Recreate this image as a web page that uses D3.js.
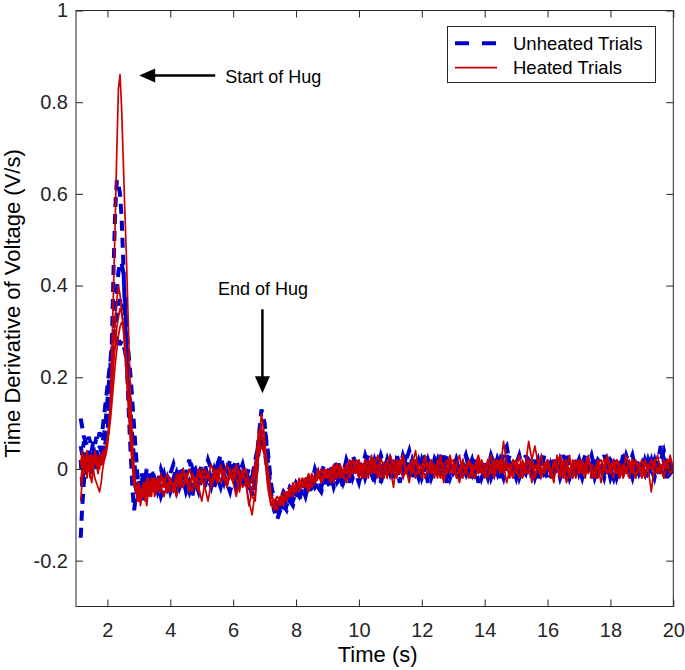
<!DOCTYPE html>
<html><head><meta charset="utf-8">
<script src="https://cdn.jsdelivr.net/npm/d3@7"></script>
<style>body{margin:0;background:#fff} svg{display:block} text{font-family:"Liberation Sans", Arial, Helvetica, sans-serif}</style>
</head><body><svg id="c" width="685" height="670"></svg>
<script>
// sampling grid: 0.05 s from 1.15 to 3.45 s, then 0.1 s from 3.5 to 20 s
const timeFine = d3.range(47).map(i => +(1.15 + 0.05 * i).toFixed(2));
const timeCoarse = d3.range(166).map(i => +(3.5 + 0.1 * i).toFixed(1));
const time = timeFine.concat(timeCoarse);

// Unheated trials (V/s)
const unheated1 = [
-0.15,-0.08,-0.03,0.01,-0.01,0.02,0.00,0.03,0.01,0.02,0.00,0.03,0.02,0.04,0.03,0.05,0.06,0.08,0.13,0.20,0.30,0.45,0.57,0.63,0.62,0.60,0.55,0.46,0.36,0.26,0.17,0.09,0.02,-0.05,-0.09,-0.06,-0.07,-0.04,-0.05,-0.02,-0.04,-0.01,-0.03,-0.05,-0.02,-0.03,-0.01,
-0.02,-0.05,-0.03,-0.01,-0.04,
-0.02,-0.04,-0.01,-0.03,0.00,-0.03,-0.05,-0.02,-0.01,-0.03,
-0.01,0.01,-0.02,-0.04,-0.01,0.02,-0.01,-0.03,0.00,-0.02,
0.01,-0.02,-0.01,-0.03,-0.02,-0.04,-0.05,-0.01,0.06,0.13,
0.10,0.02,-0.05,-0.09,-0.11,-0.09,-0.07,-0.08,-0.06,-0.07,
-0.05,-0.06,-0.04,-0.05,-0.02,-0.04,-0.03,-0.01,-0.04,-0.02,
-0.03,-0.01,-0.04,-0.02,0.00,-0.03,-0.01,0.01,-0.02,0.00,
0.02,-0.01,0.01,0.03,0.00,-0.02,0.01,0.03,-0.01,0.02,
0.00,-0.02,0.02,0.01,-0.01,0.03,0.00,-0.02,0.01,-0.01,
0.02,0.00,-0.03,0.01,0.02,-0.01,0.00,0.03,-0.02,0.01,
-0.01,0.02,0.00,-0.02,0.03,0.01,-0.01,0.02,-0.03,0.00,
0.02,-0.01,0.01,0.03,0.00,-0.02,0.04,0.05,0.01,-0.01,
0.02,0.00,-0.02,0.03,0.01,-0.01,0.02,-0.02,0.00,0.03,
0.01,-0.02,0.02,0.00,-0.01,0.03,0.01,-0.02,0.00,0.02,
-0.01,0.01,0.03,0.00,-0.02,0.02,0.00,-0.01,0.03,0.01,
-0.02,0.00,0.02,-0.01,0.03,0.01,-0.02,0.01,0.00,0.02,
-0.01,0.02,0.00,0.03,-0.01,0.01,0.05,0.02,-0.02,0.01,
-0.01];
const unheated2 = [
0.11,0.09,0.07,0.06,0.05,0.07,0.06,0.04,0.06,0.05,0.07,0.06,0.08,0.07,0.09,0.12,0.15,0.18,0.21,0.24,0.28,0.31,0.35,0.39,0.43,0.45,0.45,0.43,0.38,0.32,0.25,0.18,0.11,0.05,0.00,-0.04,-0.06,-0.04,-0.06,-0.03,-0.05,-0.02,-0.04,-0.03,-0.01,-0.04,-0.02,
-0.04,-0.02,-0.05,-0.03,-0.01,
-0.04,-0.02,-0.05,-0.03,-0.01,-0.04,-0.02,0.00,-0.03,-0.05,
-0.02,-0.04,-0.01,-0.03,0.00,-0.02,-0.04,-0.01,-0.03,-0.05,
-0.02,0.00,-0.03,-0.01,-0.04,-0.02,-0.06,-0.03,0.03,0.08,
0.09,0.04,-0.03,-0.07,-0.10,-0.08,-0.09,-0.06,-0.07,-0.05,
-0.06,-0.04,-0.05,-0.03,-0.05,-0.02,-0.04,-0.03,-0.01,-0.03,
-0.02,-0.04,-0.01,-0.03,-0.02,0.00,-0.03,-0.01,-0.02,0.01,
-0.01,0.01,-0.02,0.00,0.02,-0.01,0.01,-0.03,0.00,0.02,
-0.01,0.01,-0.02,0.00,0.03,0.01,-0.01,0.02,0.00,-0.02,
0.01,-0.01,0.02,0.00,-0.02,0.01,0.03,-0.01,0.01,-0.02,
0.00,0.02,-0.01,0.01,-0.02,0.00,0.02,0.01,-0.01,0.02,
-0.01,0.01,-0.02,0.00,0.02,-0.01,0.01,0.03,-0.01,0.00,
-0.02,0.01,0.00,0.02,-0.01,0.01,-0.02,0.00,0.02,-0.01,
0.00,0.02,-0.01,0.01,-0.02,0.00,0.02,0.01,-0.01,0.00,
0.02,-0.01,0.00,0.02,0.01,-0.02,0.00,0.01,-0.01,0.02,
0.00,-0.02,0.01,0.00,0.02,-0.01,0.01,0.03,0.00,-0.01,
0.01,-0.01,0.02,0.00,-0.02,0.01,0.00,0.02,-0.01,0.00,
0.01];
const unheated3 = [
0.02,-0.04,0.01,-0.02,0.03,0.00,0.02,-0.01,0.01,0.03,0.01,0.02,0.00,0.03,0.05,0.04,0.07,0.10,0.14,0.19,0.24,0.28,0.31,0.34,0.36,0.37,0.35,0.36,0.34,0.31,0.27,0.23,0.19,0.14,0.09,0.04,-0.01,-0.05,-0.07,-0.05,-0.07,-0.04,-0.06,-0.03,-0.05,-0.03,-0.04,
-0.05,-0.03,-0.06,-0.04,-0.02,
-0.05,-0.03,-0.01,-0.04,-0.02,-0.05,-0.03,-0.06,-0.02,-0.04,
-0.01,-0.03,0.00,-0.02,-0.04,-0.01,0.01,-0.02,-0.03,0.00,
-0.02,-0.04,-0.01,-0.03,0.00,-0.03,-0.02,0.02,0.05,0.06,
0.04,-0.01,-0.06,-0.08,-0.09,-0.10,-0.08,-0.09,-0.07,-0.08,
-0.05,-0.07,-0.04,-0.06,-0.03,-0.05,-0.02,-0.04,-0.05,-0.02,
-0.04,-0.02,-0.03,0.00,-0.02,-0.04,-0.01,-0.03,0.01,-0.01,
-0.03,0.00,-0.02,0.01,-0.01,-0.03,0.00,-0.02,0.01,-0.01,
0.01,-0.02,0.00,-0.03,0.01,-0.01,0.02,-0.02,0.00,0.01,
-0.02,0.00,0.01,-0.02,0.00,0.02,-0.01,0.00,-0.03,0.01,
-0.01,0.00,-0.02,0.01,-0.01,0.02,-0.02,0.00,0.01,-0.02,
0.00,-0.02,0.01,-0.01,0.02,0.00,-0.02,0.01,0.00,-0.01,
0.01,-0.02,0.00,-0.01,0.02,-0.02,0.00,0.01,-0.01,0.00,
-0.02,0.01,-0.01,0.00,0.02,-0.01,-0.02,0.00,0.01,-0.01,
0.00,-0.02,0.01,-0.01,0.00,0.02,-0.01,0.00,-0.02,0.01,
-0.01,0.01,-0.02,0.00,-0.01,0.02,0.00,-0.02,0.01,-0.01,
0.01,-0.02,-0.01,0.00,0.02,-0.01,0.00,-0.02,0.01,-0.01,
0.00];
const unheated4 = [
0.05,0.03,0.06,0.04,0.02,0.04,0.01,0.03,0.05,0.02,0.04,0.03,0.05,0.04,0.06,0.08,0.11,0.15,0.19,0.23,0.26,0.28,0.29,0.28,0.29,0.27,0.28,0.27,0.26,0.24,0.20,0.16,0.11,0.06,0.02,-0.02,-0.04,-0.02,-0.04,-0.01,-0.03,-0.02,0.00,-0.03,-0.01,-0.02,-0.01,
-0.01,-0.03,0.00,-0.02,-0.04,
-0.01,0.01,-0.02,0.00,-0.03,-0.01,0.02,-0.01,0.00,-0.02,
0.01,-0.01,0.02,0.00,-0.02,0.01,0.03,0.00,-0.01,0.02,
0.00,0.02,-0.01,0.01,-0.02,0.00,-0.03,0.00,0.04,0.07,
0.05,0.00,-0.04,-0.06,-0.08,-0.07,-0.05,-0.06,-0.04,-0.05,
-0.03,-0.04,-0.02,-0.03,-0.01,-0.03,0.00,-0.02,-0.01,0.01,
-0.01,0.01,-0.02,0.02,0.00,-0.01,0.02,0.00,0.03,0.01,
0.02,0.00,0.03,0.01,-0.01,0.02,0.00,0.03,0.01,-0.01,
0.02,0.00,0.03,0.01,-0.01,0.02,0.04,0.01,0.00,0.02,
0.00,0.03,0.01,-0.01,0.02,0.00,0.02,-0.01,0.03,0.01,
0.00,0.02,-0.01,0.01,0.03,0.00,0.02,-0.01,0.01,0.00,
0.02,0.00,0.03,0.01,-0.01,0.02,0.00,0.01,0.03,0.00,
0.01,0.03,0.00,-0.01,0.02,0.01,0.00,0.02,-0.01,0.01,
0.00,0.02,0.01,-0.01,0.02,0.00,0.03,0.01,-0.01,0.01,
0.02,0.00,-0.01,0.01,0.03,0.00,0.02,0.01,-0.01,0.00,
0.02,0.01,-0.01,0.02,0.00,0.03,0.01,0.00,0.02,-0.01,
0.01,0.03,0.00,0.02,-0.01,0.01,0.02,0.04,0.01,0.02,
0.01];

// Heated trials (V/s)
const heated1 = [
-0.03,0.01,-0.01,0.02,0.00,0.01,-0.02,0.02,0.00,0.03,0.01,-0.01,0.02,0.01,0.03,0.02,0.03,0.05,0.09,0.17,0.28,0.41,0.55,0.70,0.83,0.86,0.79,0.68,0.57,0.47,0.35,0.23,0.13,0.05,-0.01,-0.05,-0.04,-0.07,-0.05,-0.06,-0.03,-0.05,-0.02,-0.04,-0.06,-0.03,-0.05,
-0.03,-0.05,-0.02,-0.04,-0.01,
-0.03,-0.05,-0.02,-0.04,-0.01,-0.03,0.00,-0.02,-0.04,-0.01,
-0.03,0.00,-0.02,0.01,-0.01,-0.03,0.00,-0.02,0.01,-0.01,
-0.03,0.00,-0.02,-0.04,-0.03,-0.07,-0.10,-0.05,0.05,0.12,
0.07,-0.02,-0.07,-0.09,-0.08,-0.06,-0.08,-0.05,-0.06,-0.04,
-0.05,-0.03,-0.04,-0.02,-0.04,-0.01,-0.03,-0.02,0.00,-0.02,
-0.01,-0.03,0.00,-0.02,0.01,-0.01,-0.03,0.00,0.02,-0.01,
0.01,-0.02,0.00,0.02,-0.01,0.01,0.03,0.00,-0.02,0.01,
0.03,0.00,-0.02,0.01,0.03,-0.01,0.00,0.02,-0.02,0.01,
0.00,0.03,-0.01,0.01,-0.02,0.02,0.00,-0.03,0.01,0.03,
-0.01,0.01,0.03,-0.02,0.00,0.02,-0.01,0.01,0.03,0.00,
-0.02,0.01,0.03,-0.01,0.02,0.00,0.06,0.01,-0.02,0.02,
0.00,0.03,-0.01,0.01,0.06,0.02,-0.02,0.01,0.03,-0.01,
0.01,-0.02,0.02,0.00,0.03,-0.01,0.01,-0.02,0.02,0.00,
0.02,-0.01,0.01,0.03,-0.02,0.00,0.02,-0.01,0.01,0.03,
0.00,-0.02,0.02,0.01,-0.01,0.03,0.00,0.02,-0.02,0.01,
-0.01,0.02,0.00,-0.05,0.01,0.03,-0.01,0.02,0.00,0.03,
0.00];
const heated2 = [
-0.07,-0.02,0.03,0.01,0.04,0.02,0.00,0.03,0.01,0.04,0.02,0.00,0.03,0.02,0.04,0.03,0.05,0.07,0.10,0.15,0.21,0.27,0.33,0.37,0.40,0.38,0.35,0.31,0.26,0.21,0.15,0.09,0.04,0.00,-0.04,-0.03,-0.06,-0.04,-0.07,-0.05,-0.03,-0.06,-0.08,-0.05,-0.03,-0.05,-0.02,
-0.06,-0.03,-0.05,-0.02,-0.04,
-0.02,-0.05,-0.03,-0.01,-0.04,-0.02,-0.05,-0.01,-0.03,0.00,
-0.02,-0.04,-0.07,-0.03,-0.01,-0.03,0.00,-0.02,-0.04,-0.01,
-0.03,-0.06,-0.02,0.00,-0.03,-0.08,-0.05,0.00,0.08,0.09,
0.03,-0.04,-0.08,-0.07,-0.09,-0.06,-0.07,-0.05,-0.06,-0.03,
-0.05,-0.02,-0.04,-0.03,-0.01,-0.03,-0.02,0.00,-0.03,-0.01,
-0.02,0.00,-0.03,0.01,-0.01,-0.02,0.01,-0.01,0.00,0.02,
-0.01,0.01,-0.02,0.00,0.03,-0.01,0.01,-0.02,0.00,0.02,
0.00,-0.04,0.02,-0.01,0.03,0.00,-0.03,0.01,0.04,-0.01,
0.01,-0.02,0.00,0.02,-0.01,0.01,0.03,-0.02,0.00,0.01,
0.02,-0.01,-0.03,0.01,0.00,0.02,-0.02,0.01,-0.01,0.02,
0.00,-0.02,0.01,0.00,0.02,-0.01,0.01,-0.03,0.00,0.02,
-0.01,0.01,-0.02,0.00,0.02,-0.03,0.01,0.00,-0.02,0.01,
0.02,0.00,-0.02,0.01,-0.01,0.02,-0.03,0.00,0.01,-0.02,
0.01,0.00,-0.02,0.02,0.00,-0.01,0.01,-0.03,0.00,0.02,
-0.01,0.01,0.00,-0.02,0.01,-0.01,0.02,0.00,-0.02,0.01,
0.00,-0.02,0.01,0.00,0.02,-0.01,0.00,-0.02,0.01,-0.01,
0.01];
const heated3 = [
0.01,0.04,-0.01,0.02,-0.02,0.01,-0.01,-0.03,0.00,-0.02,-0.03,-0.04,-0.05,-0.03,0.00,0.02,0.04,0.06,0.09,0.13,0.18,0.23,0.27,0.31,0.33,0.35,0.34,0.32,0.28,0.23,0.18,0.12,0.07,0.02,-0.02,-0.04,-0.07,-0.05,-0.08,-0.06,-0.04,-0.07,-0.05,-0.03,-0.05,-0.02,-0.04,
-0.02,-0.04,-0.01,-0.03,-0.05,
-0.02,-0.04,-0.01,-0.03,0.00,-0.02,-0.04,-0.01,-0.03,-0.05,
0.00,-0.02,-0.01,-0.03,0.00,-0.02,0.01,-0.01,-0.03,0.00,
-0.02,0.01,-0.01,-0.02,0.00,-0.03,-0.06,-0.07,0.02,0.08,
0.05,0.00,-0.05,-0.08,-0.07,-0.08,-0.06,-0.07,-0.05,-0.06,
-0.04,-0.05,-0.03,-0.04,-0.02,-0.04,-0.03,-0.01,-0.03,-0.02,
0.00,-0.02,-0.01,0.01,-0.02,0.00,-0.01,0.02,-0.01,0.00,
0.02,-0.01,0.01,-0.02,0.02,0.00,-0.01,0.02,0.01,-0.02,
0.01,0.02,-0.01,0.00,0.02,-0.01,0.01,0.00,0.02,-0.01,
0.00,0.02,0.01,-0.01,0.01,-0.02,0.02,0.00,-0.01,0.02,
0.00,0.01,-0.01,0.02,0.00,-0.02,0.01,0.00,0.02,-0.01,
0.01,0.00,-0.01,0.02,0.00,0.02,-0.01,0.01,0.00,-0.02,
0.02,0.00,0.01,-0.01,0.00,0.02,0.05,0.01,-0.01,0.00,
0.02,-0.01,0.01,0.00,-0.02,0.01,0.02,-0.01,0.00,0.02,
0.00,0.01,-0.01,0.02,0.00,-0.02,0.01,0.02,0.00,-0.01,
0.01,0.00,0.02,-0.01,0.01,0.00,-0.02,0.02,0.01,0.00,
0.02,-0.01,0.01,0.00,0.02,-0.01,0.01,0.00,0.02,-0.01,
0.00];
const heated4 = [
0.02,-0.01,0.02,0.00,0.03,0.01,0.03,0.00,0.02,0.01,0.03,0.02,0.00,0.03,0.01,0.03,0.04,0.06,0.08,0.11,0.15,0.19,0.23,0.26,0.29,0.31,0.32,0.31,0.28,0.24,0.19,0.14,0.09,0.04,0.00,-0.03,-0.05,-0.03,-0.06,-0.04,-0.06,-0.03,-0.05,-0.02,-0.04,-0.06,-0.03,
-0.05,-0.02,-0.04,-0.06,-0.03,
-0.05,-0.03,-0.06,-0.02,-0.04,-0.01,-0.03,-0.05,-0.02,-0.04,
-0.07,-0.03,-0.01,-0.04,-0.02,0.00,-0.03,-0.01,-0.03,-0.02,
0.00,-0.02,-0.05,-0.01,-0.02,-0.04,-0.02,0.01,0.03,0.05,
0.03,-0.02,-0.06,-0.07,-0.06,-0.07,-0.05,-0.06,-0.04,-0.05,
-0.03,-0.04,-0.02,-0.03,-0.05,-0.02,-0.03,-0.01,-0.02,0.00,
-0.02,-0.01,0.01,-0.02,0.00,-0.01,0.01,-0.02,0.00,0.01,
-0.02,0.00,0.02,-0.01,0.00,0.02,-0.02,0.01,0.00,-0.01,
0.01,-0.01,0.00,0.02,-0.02,0.00,0.01,-0.01,0.02,0.00,
-0.02,0.01,0.00,0.02,-0.01,0.00,-0.02,0.01,0.02,-0.01,
0.01,-0.02,0.00,0.01,-0.01,0.02,0.00,-0.02,0.01,0.00,
-0.01,0.02,0.00,-0.02,0.01,-0.01,0.02,0.00,0.01,-0.01,
0.00,-0.02,0.02,0.00,-0.01,0.01,-0.02,0.02,0.00,-0.01,
0.01,0.00,-0.03,0.03,0.01,-0.02,0.00,0.03,-0.02,0.01,
-0.01,0.02,0.00,-0.01,0.01,0.00,-0.02,0.01,0.02,-0.01,
0.00,0.02,-0.01,0.01,-0.02,0.00,0.01,-0.01,0.02,0.00,
-0.02,0.01,0.00,0.02,-0.01,0.00,0.01,-0.02,0.01,0.02,
0.00];

const unheatedTrials = [unheated1, unheated2, unheated3, unheated4];
const heatedTrials = [heated1, heated2, heated3, heated4];

const xTicks = [2, 4, 6, 8, 10, 12, 14, 16, 18, 20];
const yTicks = [-0.2, 0, 0.2, 0.4, 0.6, 0.8, 1];
const yTickLabels = ["-0.2", "0", "0.2", "0.4", "0.6", "0.8", "1"];
const legendLabels = ["Unheated Trials", "Heated Trials"];
const xTitle = "Time (s)";
const yTitle = "Time Derivative of Voltage (V/s)";
const annotations = [
  {text: "Start of Hug", tip: [3.01, 0.858]},
  {text: "End of Hug", tip: [6.93, 0.165]}
];

const AX = "#262626", BLUE = "#0000cc", RED = "#cc0000";
const L = 76, R = 673.3, T = 10.5, B = 606.5;
const svg = d3.select("#c");
svg.append("rect").attr("width", 685).attr("height", 670).attr("fill", "#fff");

const x = d3.scaleLinear().domain([1, 20]).range([L, R]);
const y = d3.scaleLinear().domain([-0.3, 1]).range([B, T]);

svg.append("defs").append("clipPath").attr("id", "plot")
  .append("rect").attr("x", L).attr("y", T).attr("width", R - L).attr("height", B - T);

const line = d3.line().x(d => x(d[0])).y(d => y(d[1]));
const zip = vals => vals.slice(0, time.length).map((v, i) => [time[i], v]);

const g = svg.append("g").attr("clip-path", "url(#plot)");
g.selectAll("path.unheated").data(unheatedTrials).join("path")
  .attr("class", "unheated")
  .attr("d", d => line(zip(d)))
  .attr("fill", "none").attr("stroke", BLUE).attr("stroke-width", 4)
  .attr("stroke-dasharray", "10,7").attr("stroke-linejoin", "miter");
g.selectAll("path.heated").data(heatedTrials).join("path")
  .attr("class", "heated")
  .attr("d", d => line(zip(d)))
  .attr("fill", "none").attr("stroke", RED).attr("stroke-width", 1.7)
  .attr("stroke-linejoin", "round");

// axes
function styleAxis(sel, showLabels) {
  sel.select(".domain").remove();
  sel.selectAll(".tick line").attr("stroke", AX).attr("stroke-width", 1);
  sel.selectAll(".tick text").attr("fill", AX).style("font-size", "20px")
     .style("font-family", '"Liberation Sans", Arial, Helvetica, sans-serif');
  if (!showLabels) sel.selectAll(".tick text").remove();
}
svg.append("g").attr("transform", `translate(0,${B})`)
  .call(d3.axisBottom(x).tickValues(xTicks).tickSizeInner(-7).tickSizeOuter(0).tickPadding(16).tickFormat(d3.format("d")))
  .call(s => styleAxis(s, true));
svg.append("g").attr("transform", `translate(0,${T})`)
  .call(d3.axisTop(x).tickValues(xTicks).tickSizeInner(-7).tickSizeOuter(0))
  .call(s => styleAxis(s, false));
svg.append("g").attr("transform", `translate(${L},0)`)
  .call(d3.axisLeft(y).tickValues(yTicks).tickSizeInner(-7).tickSizeOuter(0).tickPadding(8)
        .tickFormat((d, i) => yTickLabels[i]))
  .call(s => styleAxis(s, true));
svg.append("g").attr("transform", `translate(${R},0)`)
  .call(d3.axisRight(y).tickValues(yTicks).tickSizeInner(-7).tickSizeOuter(0))
  .call(s => styleAxis(s, false));

svg.append("rect").attr("x", L).attr("y", T).attr("width", R - L).attr("height", B - T)
  .attr("fill", "none").attr("stroke", AX).attr("stroke-width", 1);

// titles
svg.append("text").attr("x", (L + R) / 2 + 3).attr("y", 662)
  .attr("text-anchor", "middle").attr("fill", "#000").style("font-size", "22px").text(xTitle);
svg.append("text").attr("transform", `translate(20,${(T + B) / 2 - 5}) rotate(-90)`)
  .attr("text-anchor", "middle").attr("fill", "#000").style("font-size", "22px").text(yTitle);

// annotations
const a1 = annotations[0], a2 = annotations[1];
{
  const tx = x(a1.tip[0]), ty = y(a1.tip[1]);
  svg.append("line").attr("x1", tx + 12).attr("x2", tx + 76).attr("y1", ty).attr("y2", ty)
    .attr("stroke", "#000").attr("stroke-width", 2.5);
  svg.append("path").attr("d", `M${tx},${ty}L${tx + 16},${ty - 7}L${tx + 16},${ty + 7}Z`).attr("fill", "#000");
  svg.append("text").attr("x", tx + 86).attr("y", ty + 7.5).attr("fill", "#000")
    .style("font-size", "18px").text(a1.text);
}
{
  const tx = x(a2.tip[0]), ty = y(a2.tip[1]);
  svg.append("line").attr("x1", tx).attr("x2", tx).attr("y1", ty - 84).attr("y2", ty - 12)
    .attr("stroke", "#000").attr("stroke-width", 2.5);
  svg.append("path").attr("d", `M${tx},${ty}L${tx - 7.5},${ty - 17}L${tx + 7.5},${ty - 17}Z`).attr("fill", "#000");
  svg.append("text").attr("x", tx + 0.5).attr("y", ty - 98).attr("text-anchor", "middle").attr("fill", "#000")
    .style("font-size", "18px").text(a2.text);
}

// legend
const lg = svg.append("g");
lg.append("rect").attr("x", 447.5).attr("y", 26.5).attr("width", 208).attr("height", 56)
  .attr("fill", "#fff").attr("stroke", AX).attr("stroke-width", 1);
const legendStyles = [
  {stroke: BLUE, w: 4, dash: "14,13"},
  {stroke: RED, w: 1.7, dash: null}
];
legendLabels.forEach((lab, i) => {
  const yy = 43.3 + i * 24.4;
  lg.append("line").attr("x1", 455).attr("x2", 497).attr("y1", yy).attr("y2", yy)
    .attr("stroke", legendStyles[i].stroke).attr("stroke-width", legendStyles[i].w)
    .attr("stroke-dasharray", legendStyles[i].dash);
  lg.append("text").attr("x", 513).attr("y", yy).attr("dy", "0.35em").attr("fill", "#000")
    .style("font-size", "18.5px").text(lab);
});
</script></body></html>
